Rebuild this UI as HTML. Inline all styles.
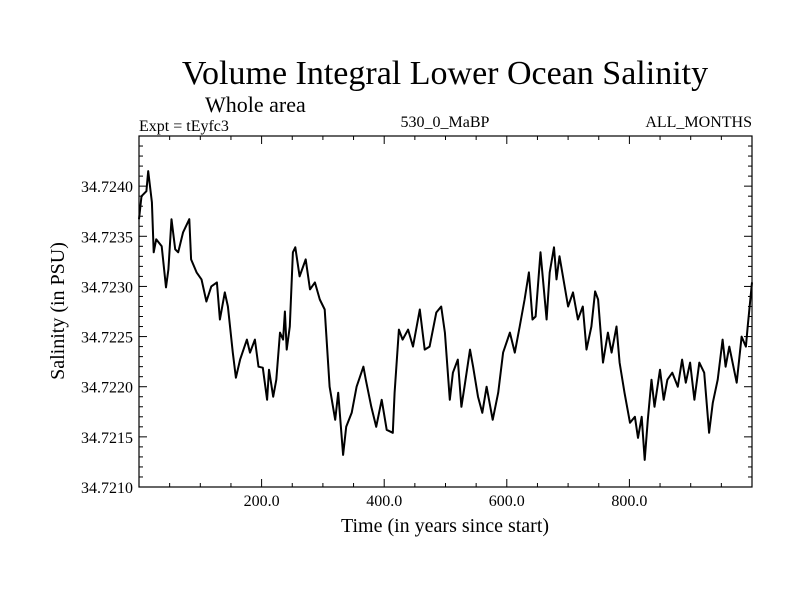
<!DOCTYPE html>
<html><head><meta charset="utf-8"><style>
body{margin:0;background:#fff;}
svg{display:block;font-family:"Liberation Serif",serif;}
</style></head><body>
<svg id="chart" width="800" height="600">
<text x="445" y="84" font-size="34" text-anchor="middle">Volume Integral Lower Ocean Salinity</text>
<text x="205" y="112" font-size="22">Whole area</text>
<text x="139" y="131" font-size="16">Expt = tEyfc3</text>
<text x="445" y="127" font-size="16" text-anchor="middle">530_0_MaBP</text>
<text x="752" y="127" font-size="16" text-anchor="end">ALL_MONTHS</text>
<text x="445" y="532" font-size="20" text-anchor="middle">Time (in years since start)</text>
<text transform="translate(64,311) rotate(-90)" font-size="20" text-anchor="middle">Salinity (in PSU)</text>
<g id="ticks"></g>
<path id="series" fill="none" stroke="#000" stroke-width="2" stroke-linejoin="round"></path>
<rect x="139" y="136" width="613" height="351" fill="none" stroke="#000" stroke-width="1.2"></rect>
</svg>
<script>
const years=[0,4,12,15,21,24,28,37,44,48,53,59,64,72,82,85,94,102,110,118,127,132,140,145,153,158,165,176,181,189,195,202,209,212,219,224,230,235,238,241,246,251,255,262,272,279,287,295,303,311,320,325,333,338,347,355,366,370,379,387,396,404,414,417,424,430,439,447,458,466,474,485,493,499,507,512,520,526,531,540,545,553,560,567,577,586,594,605,613,621,629,636,642,647,655,665,670,677,681,686,700,708,716,724,730,738,744,749,757,765,771,779,784,792,801,809,814,820,825,830,836,841,850,856,862,870,879,886,892,899,906,914,922,930,936,944,952,957,963,975,983,990,993,1000];
const salinity=[34.72367,34.72390,34.72395,34.72415,34.72384,34.72334,34.72347,34.72340,34.72299,34.72317,34.72367,34.72337,34.72334,34.72354,34.72367,34.72327,34.72314,34.72307,34.72285,34.72300,34.72304,34.72267,34.72294,34.72280,34.72234,34.72209,34.72227,34.72247,34.72234,34.72247,34.72220,34.72219,34.72187,34.72217,34.72190,34.72207,34.72254,34.72247,34.72275,34.72237,34.72260,34.72334,34.72339,34.72310,34.72327,34.72297,34.72304,34.72287,34.72277,34.72200,34.72167,34.72194,34.72132,34.72160,34.72174,34.72200,34.72220,34.72207,34.72180,34.72160,34.72187,34.72157,34.72154,34.72194,34.72257,34.72247,34.72257,34.72240,34.72277,34.72237,34.72240,34.72274,34.72280,34.72254,34.72187,34.72214,34.72227,34.72180,34.72200,34.72237,34.72220,34.72190,34.72174,34.72200,34.72167,34.72194,34.72234,34.72254,34.72234,34.72260,34.72287,34.72314,34.72267,34.72270,34.72334,34.72267,34.72314,34.72339,34.72307,34.72330,34.72280,34.72294,34.72267,34.72280,34.72237,34.72260,34.72295,34.72287,34.72224,34.72254,34.72234,34.72260,34.72224,34.72194,34.72164,34.72170,34.72149,34.72170,34.72127,34.72167,34.72207,34.72180,34.72217,34.72187,34.72207,34.72214,34.72200,34.72227,34.72204,34.72224,34.72187,34.72224,34.72214,34.72154,34.72184,34.72207,34.72247,34.72220,34.72240,34.72204,34.72250,34.72240,34.72260,34.72304];
const xTickLabels=["200.0","400.0","600.0","800.0"];
const xTickValues=[200,400,600,800];
const yTickLabels=["34.7210","34.7215","34.7220","34.7225","34.7230","34.7235","34.7240"];
const yTickValues=[34.7210,34.7215,34.7220,34.7225,34.7230,34.7235,34.7240];

const L=139,R=752,T=136,B=487,X0=0,X1=1000,Y0=34.7210,Y1=34.7245;
const sx=v=>L+(v-X0)/(X1-X0)*(R-L);
const sy=v=>B-(v-Y0)/(Y1-Y0)*(B-T);
const NS="http://www.w3.org/2000/svg";
const g=document.getElementById('ticks');
function line(x1,y1,x2,y2){const l=document.createElementNS(NS,'line');l.setAttribute('x1',x1);l.setAttribute('y1',y1);l.setAttribute('x2',x2);l.setAttribute('y2',y2);l.setAttribute('stroke','#000');l.setAttribute('stroke-width','1');


g.appendChild(l);}
function text(x,y,s,anchor){const t=document.createElementNS(NS,'text');t.setAttribute('x',x);t.setAttribute('y',y);t.setAttribute('font-size','16');t.setAttribute('text-anchor',anchor);t.textContent=s;


g.appendChild(t);}
for(let v=50;v<X1;v+=50){const x=sx(v);const major=v%200===0;const len=major?8:4;line(x,B,x,B-len);line(x,T,x,T+len);}
for(let i=0;i<=35;i++){const v=Y0+i*0.0001;const y=sy(v);const major=i%5===0;const len=major?8:4;line(L,y,L+len,y);line(R,y,R-len,y);}
xTickValues.forEach((v,i)=>text(sx(v),506,xTickLabels[i],'middle'));
yTickValues.forEach((v,i)=>text(133,sy(v)+6,yTickLabels[i],'end'));
document.getElementById('series').setAttribute('d',years.map((yr,i)=>(i?'L':'M')+sx(yr).toFixed(1)+','+sy(salinity[i]).toFixed(1)).join(''));
</script>
</body></html>
